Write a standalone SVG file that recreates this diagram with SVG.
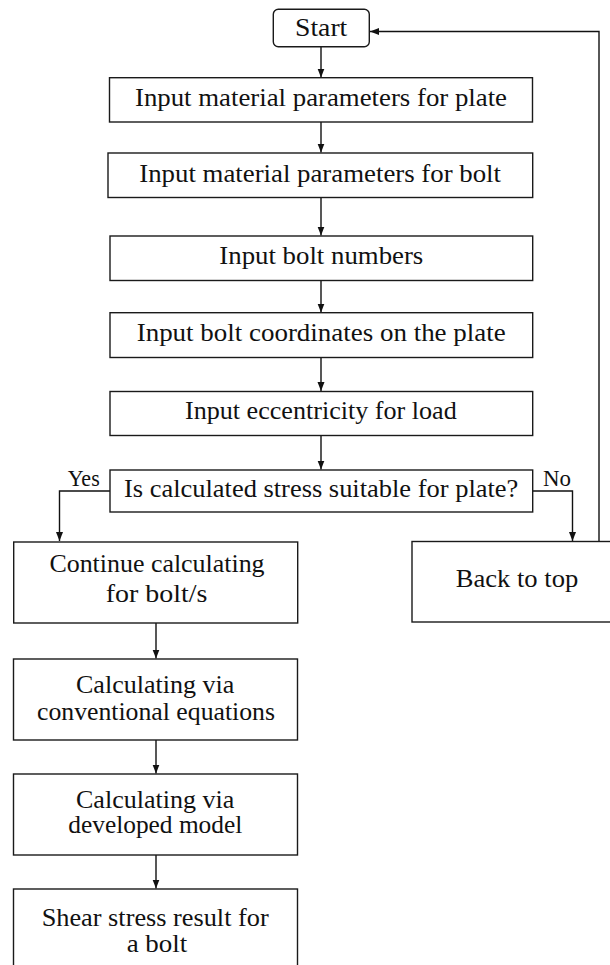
<svg xmlns="http://www.w3.org/2000/svg" width="610" height="965" viewBox="0 0 610 965">
<style>
  .box { fill: #fff; stroke: #1a1a1a; stroke-width: 1.4; }
  .t { font-family: "Liberation Serif", "Times New Roman", serif; font-size: 25px; fill: #111; }
  .lbl { font-family: "Liberation Serif", "Times New Roman", serif; font-size: 24px; fill: #111; }
  .edge { fill: none; stroke: #111; stroke-width: 1.4; }
</style>
<defs>
  <marker id="arr" markerUnits="userSpaceOnUse" markerWidth="10" markerHeight="8" refX="9" refY="3.5" orient="auto">
    <path d="M0,0 L9,3.5 L0,7 z" fill="#111"/>
  </marker>
</defs>
<rect width="610" height="965" fill="#fff"/>

<g id="connectors">
  <line class="edge" x1="321" y1="47" x2="321" y2="77.5" marker-end="url(#arr)"/>
  <line class="edge" x1="321" y1="122" x2="321" y2="152.5" marker-end="url(#arr)"/>
  <line class="edge" x1="321" y1="197.5" x2="321" y2="235.5" marker-end="url(#arr)"/>
  <line class="edge" x1="321" y1="280.5" x2="321" y2="312.5" marker-end="url(#arr)"/>
  <line class="edge" x1="321" y1="357.5" x2="321" y2="391" marker-end="url(#arr)"/>
  <line class="edge" x1="321" y1="435.5" x2="321" y2="469.5" marker-end="url(#arr)"/>
  <polyline class="edge" points="110,491 59.5,491 59.5,541" marker-end="url(#arr)"/>
  <polyline class="edge" points="533,491 572.5,491 572.5,541" marker-end="url(#arr)"/>
  <polyline class="edge" points="599,541 599,31.5 370,31.5" marker-end="url(#arr)"/>
  <line class="edge" x1="156" y1="623" x2="156" y2="658.5" marker-end="url(#arr)"/>
  <line class="edge" x1="156" y1="740" x2="156" y2="773.5" marker-end="url(#arr)"/>
  <line class="edge" x1="156" y1="855" x2="156" y2="888.5" marker-end="url(#arr)"/>
  <text class="lbl" x="67.7" y="485.5" textLength="32" lengthAdjust="spacingAndGlyphs">Yes</text>
  <text class="lbl" x="543" y="485.5" textLength="28" lengthAdjust="spacingAndGlyphs">No</text>
</g>

<g id="start">
  <rect class="box" x="273.3" y="9.3" width="96" height="37.4" rx="5" ry="5"/>
  <text class="t" x="295" y="35.7" textLength="52.3" lengthAdjust="spacingAndGlyphs">Start</text>
</g>
<g id="plate-params">
  <rect class="box" x="109.5" y="77.7" width="423" height="44.3"/>
  <text class="t" x="135" y="106" textLength="372" lengthAdjust="spacingAndGlyphs">Input material parameters for plate</text>
</g>
<g id="bolt-params">
  <rect class="box" x="108" y="153" width="424.7" height="44.5"/>
  <text class="t" x="139.3" y="181.7" textLength="361.7" lengthAdjust="spacingAndGlyphs">Input material parameters for bolt</text>
</g>
<g id="bolt-numbers">
  <rect class="box" x="110" y="236" width="422.7" height="44.5"/>
  <text class="t" x="219.3" y="264.3" textLength="204" lengthAdjust="spacingAndGlyphs">Input bolt numbers</text>
</g>
<g id="bolt-coords">
  <rect class="box" x="110" y="312.7" width="422.7" height="44.8"/>
  <text class="t" x="136.7" y="341" textLength="369" lengthAdjust="spacingAndGlyphs">Input bolt coordinates on the plate</text>
</g>
<g id="eccentricity">
  <rect class="box" x="110" y="391.5" width="422.7" height="44"/>
  <text class="t" x="185" y="419.3" textLength="271.7" lengthAdjust="spacingAndGlyphs">Input eccentricity for load</text>
</g>
<g id="decision">
  <rect class="box" x="110" y="470" width="422.7" height="42"/>
  <text class="t" x="124" y="497.3" textLength="394.3" lengthAdjust="spacingAndGlyphs">Is calculated stress suitable for plate?</text>
</g>
<g id="continue">
  <rect class="box" x="13.7" y="542" width="284" height="81"/>
  <text class="t" x="49.4" y="571.7" textLength="215.2" lengthAdjust="spacingAndGlyphs">Continue calculating</text>
  <text class="t" x="105.7" y="601.7" textLength="101.7" lengthAdjust="spacingAndGlyphs">for bolt/s</text>
</g>
<g id="back-to-top">
  <rect class="box" x="412" y="541.5" width="210" height="80.5"/>
  <text class="t" x="455.7" y="587.3" textLength="122.6" lengthAdjust="spacingAndGlyphs">Back to top</text>
</g>
<g id="conventional">
  <rect class="box" x="13.5" y="659" width="284" height="81"/>
  <text class="t" x="76" y="692.7" textLength="158.3" lengthAdjust="spacingAndGlyphs">Calculating via</text>
  <text class="t" x="37" y="720" textLength="238" lengthAdjust="spacingAndGlyphs">conventional equations</text>
</g>
<g id="developed">
  <rect class="box" x="13.5" y="774" width="284" height="81"/>
  <text class="t" x="76" y="807.7" textLength="158.3" lengthAdjust="spacingAndGlyphs">Calculating via</text>
  <text class="t" x="68.3" y="833.3" textLength="174" lengthAdjust="spacingAndGlyphs">developed model</text>
</g>
<g id="result">
  <rect class="box" x="13.5" y="889" width="284" height="81"/>
  <text class="t" x="41.7" y="926" textLength="227" lengthAdjust="spacingAndGlyphs">Shear stress result for</text>
  <text class="t" x="126.7" y="952.3" textLength="60.6" lengthAdjust="spacingAndGlyphs">a bolt</text>
</g>
</svg>
